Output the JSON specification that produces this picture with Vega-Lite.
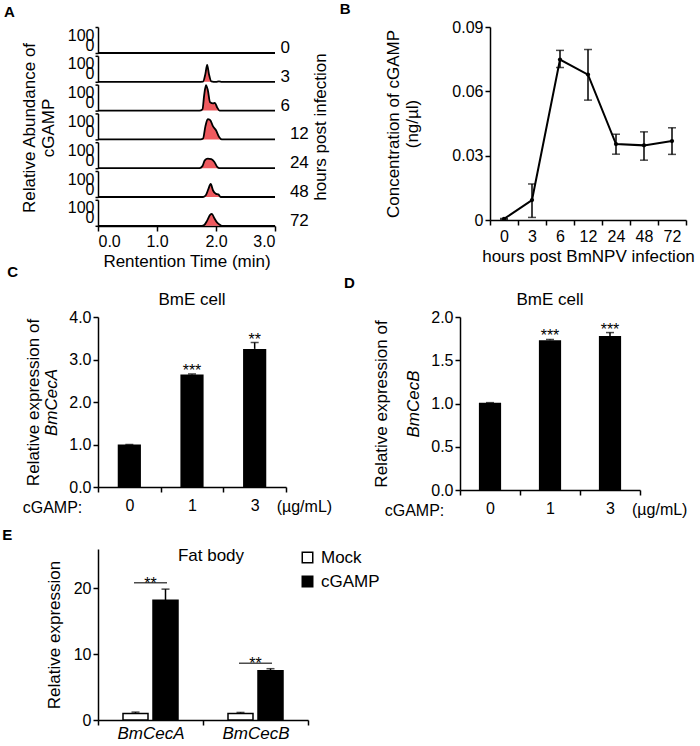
{
  "$schema": "https://vega.github.io/schema/vega-lite/v6.json",
  "padding": {"left": 2, "top": 2, "right": 0, "bottom": 0},
  "datasets": {
    "chrom": [
      {"hpi": 0, "t": 0, "a": 0}, {"hpi": 0, "t": 3, "a": 0},
      {"hpi": 3, "t": 0, "a": 0}, {"hpi": 3, "t": 1.7, "a": 0}, {"hpi": 3, "t": 1.78, "a": 1}, {"hpi": 3, "t": 1.82, "a": 30}, {"hpi": 3, "t": 1.85, "a": 65}, {"hpi": 3, "t": 1.88, "a": 30}, {"hpi": 3, "t": 1.92, "a": 2}, {"hpi": 3, "t": 2.0, "a": 0}, {"hpi": 3, "t": 2.05, "a": 2}, {"hpi": 3, "t": 2.1, "a": 0}, {"hpi": 3, "t": 3, "a": 0},
      {"hpi": 6, "t": 0, "a": 0}, {"hpi": 6, "t": 1.72, "a": 0}, {"hpi": 6, "t": 1.77, "a": 5}, {"hpi": 6, "t": 1.8, "a": 60}, {"hpi": 6, "t": 1.83, "a": 98}, {"hpi": 6, "t": 1.86, "a": 80}, {"hpi": 6, "t": 1.9, "a": 32}, {"hpi": 6, "t": 1.95, "a": 28}, {"hpi": 6, "t": 1.98, "a": 30}, {"hpi": 6, "t": 2.02, "a": 12}, {"hpi": 6, "t": 2.06, "a": 0}, {"hpi": 6, "t": 3, "a": 0},
      {"hpi": 12, "t": 0, "a": 0}, {"hpi": 12, "t": 1.74, "a": 0}, {"hpi": 12, "t": 1.78, "a": 3}, {"hpi": 12, "t": 1.82, "a": 50}, {"hpi": 12, "t": 1.86, "a": 78}, {"hpi": 12, "t": 1.9, "a": 75}, {"hpi": 12, "t": 1.95, "a": 50}, {"hpi": 12, "t": 2.0, "a": 35}, {"hpi": 12, "t": 2.05, "a": 10}, {"hpi": 12, "t": 2.1, "a": 0}, {"hpi": 12, "t": 3, "a": 0},
      {"hpi": 24, "t": 0, "a": 0}, {"hpi": 24, "t": 1.72, "a": 0}, {"hpi": 24, "t": 1.77, "a": 8}, {"hpi": 24, "t": 1.81, "a": 30}, {"hpi": 24, "t": 1.86, "a": 37}, {"hpi": 24, "t": 1.92, "a": 35}, {"hpi": 24, "t": 1.97, "a": 25}, {"hpi": 24, "t": 2.02, "a": 5}, {"hpi": 24, "t": 2.06, "a": 0}, {"hpi": 24, "t": 3, "a": 0},
      {"hpi": 48, "t": 0, "a": 0}, {"hpi": 48, "t": 1.78, "a": 0}, {"hpi": 48, "t": 1.83, "a": 8}, {"hpi": 48, "t": 1.87, "a": 30}, {"hpi": 48, "t": 1.91, "a": 50}, {"hpi": 48, "t": 1.95, "a": 25}, {"hpi": 48, "t": 2.0, "a": 12}, {"hpi": 48, "t": 2.04, "a": 10}, {"hpi": 48, "t": 2.08, "a": 0}, {"hpi": 48, "t": 3, "a": 0},
      {"hpi": 72, "t": 0, "a": 0}, {"hpi": 72, "t": 1.76, "a": 0}, {"hpi": 72, "t": 1.8, "a": 3}, {"hpi": 72, "t": 1.85, "a": 20}, {"hpi": 72, "t": 1.9, "a": 42}, {"hpi": 72, "t": 1.93, "a": 46}, {"hpi": 72, "t": 1.97, "a": 30}, {"hpi": 72, "t": 2.02, "a": 12}, {"hpi": 72, "t": 2.06, "a": 5}, {"hpi": 72, "t": 2.1, "a": 0}, {"hpi": 72, "t": 3, "a": 0}
    ],
    "conc": [
      {"hpi": 0, "conc": 0.0005, "lo": 0.0003, "hi": 0.0007},
      {"hpi": 3, "conc": 0.0093, "lo": 0.0012, "hi": 0.0168},
      {"hpi": 6, "conc": 0.0748, "lo": 0.0711, "hi": 0.0791},
      {"hpi": 12, "conc": 0.0678, "lo": 0.0559, "hi": 0.0795},
      {"hpi": 24, "conc": 0.0354, "lo": 0.0307, "hi": 0.04},
      {"hpi": 48, "conc": 0.0348, "lo": 0.0279, "hi": 0.0411},
      {"hpi": 72, "conc": 0.0368, "lo": 0.0306, "hi": 0.043}
    ],
    "cecA": [
      {"dose": "0", "value": 1.0, "hi": 1.0, "sig": ""},
      {"dose": "1", "value": 2.65, "hi": 2.66, "sig": "***"},
      {"dose": "3", "value": 3.25, "hi": 3.4, "sig": "**"}
    ],
    "cecB": [
      {"dose": "0", "value": 1.01, "hi": 1.01, "sig": ""},
      {"dose": "1", "value": 1.73, "hi": 1.74, "sig": "***"},
      {"dose": "3", "value": 1.78, "hi": 1.82, "sig": "***"}
    ],
    "unit": [{"dose": "3", "label": "(µg/mL)"}],
    "fat": [
      {"gene": "BmCecA", "treatment": "Mock", "value": 1.0, "hi": 1.2},
      {"gene": "BmCecA", "treatment": "cGAMP", "value": 18.2, "hi": 19.9},
      {"gene": "BmCecB", "treatment": "Mock", "value": 1.0, "hi": 1.15},
      {"gene": "BmCecB", "treatment": "cGAMP", "value": 7.47, "hi": 7.8}
    ],
    "fatsig": [
      {"gene": "BmCecA", "y": 20.85, "sig": "**"},
      {"gene": "BmCecB", "y": 8.64, "sig": "**"}
    ]
  },
  "vconcat": [
    {
      "vconcat": [
        {
          "hconcat": [
            {
              "title": {"text": "A", "anchor": "start", "frame": "bounds", "fontWeight": "bold", "fontSize": 15, "dx": -17, "offset": 6},
              "hconcat": [
                {
                  "data": {"name": "chrom"},
                  "bounds": "flush",
                  "facet": {"row": {"field": "hpi", "type": "ordinal", "header": {"title": ["Relative Abundance of", "cGAMP"], "titleOrient": "left", "labelOrient": "right", "labelAngle": 0, "labelAnchor": "end", "labelBaseline": "alphabetic", "labelPadding": -4, "titlePadding": -1, "labelAlign": "left"}}},
                  "spacing": 2.8,
                  "spec": {
                    "width": 177,
                    "height": 26,
                    "mark": {"type": "area", "interpolate": "monotone", "color": "#e8141b", "line": {"color": "black", "strokeWidth": 1.8}},
                    "encoding": {
                      "x": {"field": "t", "type": "quantitative", "scale": {"domain": [0, 3]}, "axis": {"values": [0, 1, 2, 3], "format": ".1f", "title": "Rentention Time (min)", "titlePadding": 4}},
                      "y": {"field": "a", "type": "quantitative", "scale": {"domain": [0, 100]}, "axis": {"values": [0, 100], "title": null, "tickSize": 3, "labelPadding": 1, "labelBaseline": {"expr": "datum.value == 0 ? 'bottom' : 'top'"}, "labelOverlap": false}}
                    }
                  }
                },
                {
                  "width": 1,
                  "height": 199,
                  "mark": {"type": "rule", "opacity": 0},
                  "encoding": {"y": {"datum": 0, "type": "quantitative", "axis": {"orient": "left", "title": "hours post infection", "labels": false, "ticks": false, "domain": false, "titlePadding": 0}}}
                }
              ],
              "spacing": 2
            },
            {
              "title": {"text": "B", "anchor": "start", "frame": "bounds", "fontWeight": "bold", "fontSize": 15, "dx": -45, "offset": 2},
              "width": 196,
              "height": 193,
              "data": {"name": "conc"},
              "encoding": {
                "x": {"field": "hpi", "type": "ordinal", "sort": [0, 3, 6, 12, 24, 48, 72], "scale": {"type": "band", "paddingInner": 0, "paddingOuter": 0}, "axis": {"tickBand": "extent", "labelAngle": 0, "title": "hours post BmNPV infection", "labelPadding": 3, "titlePadding": 4}}
              },
              "layer": [
                {"mark": {"type": "rule", "strokeWidth": 1.5, "color": "black"}, "encoding": {"y": {"field": "lo", "type": "quantitative", "scale": {"domain": [0, 0.09]}, "axis": {"values": [0, 0.03, 0.06, 0.09], "labelExpr": "datum.value == 0 ? '0' : format(datum.value, '.2f')", "title": ["Concentration of cGAMP", "(ng/µl)"], "titlePadding": 30}}, "y2": {"field": "hi"}}},
                {"mark": {"type": "tick", "thickness": 1.5, "size": 8, "color": "black"}, "encoding": {"y": {"field": "lo", "type": "quantitative", "axis": {"values": [0, 0.03, 0.06, 0.09], "labelExpr": "datum.value == 0 ? '0' : format(datum.value, '.2f')", "title": ["Concentration of cGAMP", "(ng/µl)"], "titlePadding": 30}}}},
                {"mark": {"type": "tick", "thickness": 1.5, "size": 8, "color": "black"}, "encoding": {"y": {"field": "hi", "type": "quantitative", "axis": {"values": [0, 0.03, 0.06, 0.09], "labelExpr": "datum.value == 0 ? '0' : format(datum.value, '.2f')", "title": ["Concentration of cGAMP", "(ng/µl)"], "titlePadding": 30}}}},
                {"mark": {"type": "line", "color": "black", "strokeWidth": 2}, "encoding": {"y": {"field": "conc", "type": "quantitative", "axis": {"values": [0, 0.03, 0.06, 0.09], "labelExpr": "datum.value == 0 ? '0' : format(datum.value, '.2f')", "title": ["Concentration of cGAMP", "(ng/µl)"], "titlePadding": 30}}}},
                {"mark": {"type": "point", "filled": true, "color": "black", "size": 18, "opacity": 1}, "encoding": {"y": {"field": "conc", "type": "quantitative", "axis": {"values": [0, 0.03, 0.06, 0.09], "labelExpr": "datum.value == 0 ? '0' : format(datum.value, '.2f')", "title": ["Concentration of cGAMP", "(ng/µl)"], "titlePadding": 30}}}}
              ]
            }
          ],
          "spacing": 9
        },
        {
          "hconcat": [
            {
              "title": {"text": "C", "anchor": "start", "frame": "bounds", "fontWeight": "bold", "fontSize": 15, "dx": -15, "offset": 0, "dy": -11},
              "vconcat": [
                {
                  "title": {"text": "BmE cell", "offset": 0},
                  "width": 188,
                  "height": 170,
                  "layer": [
                    {
                      "encoding": {
                        "x": {"field": "dose", "type": "nominal", "sort": ["0", "1", "3"], "scale": {"type": "band", "paddingInner": 0, "paddingOuter": 0}, "axis": {"tickBand": "extent", "labelAngle": 0, "title": "cGAMP:", "titleX": -46, "titleY": 12, "titleBaseline": "top", "titleFontSize": 16, "labelPadding": 5}}
                      },
                      "layer": [
                        {"data": {"name": "cecA"}, "mark": {"type": "bar", "color": "black", "width": {"band": 0.37}}, "encoding": {"y": {"field": "value", "type": "quantitative", "scale": {"domain": [0, 4]}, "axis": {"values": [0, 1, 2, 3, 4], "format": ".1f", "title": "BmCecA", "titleFontStyle": "italic", "titlePadding": 8}}}},
                        {"data": {"name": "cecA"}, "mark": {"type": "rule", "strokeWidth": 1.5, "color": "black"}, "encoding": {"y": {"field": "value", "type": "quantitative"}, "y2": {"field": "hi"}}},
                        {"data": {"name": "cecA"}, "mark": {"type": "tick", "thickness": 1.5, "size": 8, "color": "black"}, "encoding": {"y": {"field": "hi", "type": "quantitative"}}},
                        {"data": {"name": "cecA"}, "mark": {"type": "text", "fontSize": 16, "baseline": "alphabetic", "dy": 2}, "encoding": {"y": {"field": "hi", "type": "quantitative"}, "text": {"field": "sig"}}},
                        {"data": {"name": "unit"}, "mark": {"type": "text", "fontSize": 16, "align": "left", "baseline": "top", "dx": 22, "dy": 12}, "encoding": {"y": {"datum": 0, "type": "quantitative"}, "text": {"field": "label"}}}
                      ]
                    },
                    {"mark": {"type": "rule", "opacity": 0}, "encoding": {"y": {"datum": 0, "type": "quantitative", "axis": {"orient": "left", "offset": 56, "title": "Relative expression of", "labels": false, "ticks": false, "domain": false, "titlePadding": 0}}}}
                  ],
                  "resolve": {"scale": {"y": "independent"}, "axis": {"y": "independent"}}
                }
              ]
            },
            {
              "title": {"text": "D", "anchor": "start", "frame": "bounds", "fontWeight": "bold", "fontSize": 15, "dx": -28, "offset": 0, "dy": 0},
              "vconcat": [
                {
                  "title": {"text": "BmE cell", "offset": 0},
                  "width": 180,
                  "height": 173,
                  "layer": [
                    {
                      "encoding": {
                        "x": {"field": "dose", "type": "nominal", "sort": ["0", "1", "3"], "scale": {"type": "band", "paddingInner": 0, "paddingOuter": 0}, "axis": {"tickBand": "extent", "labelAngle": 0, "title": "cGAMP:", "titleX": -46, "titleY": 12, "titleBaseline": "top", "titleFontSize": 16, "labelPadding": 5}}
                      },
                      "layer": [
                        {"data": {"name": "cecB"}, "mark": {"type": "bar", "color": "black", "width": {"band": 0.37}}, "encoding": {"y": {"field": "value", "type": "quantitative", "scale": {"domain": [0, 2]}, "axis": {"values": [0, 0.5, 1, 1.5, 2], "format": ".1f", "title": "BmCecB", "titleFontStyle": "italic", "titlePadding": 8}}}},
                        {"data": {"name": "cecB"}, "mark": {"type": "rule", "strokeWidth": 1.5, "color": "black"}, "encoding": {"y": {"field": "value", "type": "quantitative"}, "y2": {"field": "hi"}}},
                        {"data": {"name": "cecB"}, "mark": {"type": "tick", "thickness": 1.5, "size": 8, "color": "black"}, "encoding": {"y": {"field": "hi", "type": "quantitative"}}},
                        {"data": {"name": "cecB"}, "mark": {"type": "text", "fontSize": 16, "baseline": "alphabetic", "dy": 2}, "encoding": {"y": {"field": "hi", "type": "quantitative"}, "text": {"field": "sig"}}},
                        {"data": {"name": "unit"}, "mark": {"type": "text", "fontSize": 16, "align": "left", "baseline": "top", "dx": 22, "dy": 12}, "encoding": {"y": {"datum": 0, "type": "quantitative"}, "text": {"field": "label"}}}
                      ]
                    },
                    {"mark": {"type": "rule", "opacity": 0}, "encoding": {"y": {"datum": 0, "type": "quantitative", "axis": {"orient": "left", "offset": 70, "title": "Relative expression of", "labels": false, "ticks": false, "domain": false, "titlePadding": 0}}}}
                  ],
                  "resolve": {"scale": {"y": "independent"}, "axis": {"y": "independent"}}
                }
              ]
            }
          ],
          "spacing": 11
        }
      ],
      "spacing": -4
    },
    {
      "title": {"text": "E", "anchor": "start", "frame": "bounds", "fontWeight": "bold", "fontSize": 15, "dx": -43, "offset": 4},
      "resolve": {"legend": {"fill": "independent"}},
      "vconcat": [
        {
          "title": {"text": "Fat body", "dy": 20, "dx": 8},
          "width": 210,
          "height": 171,
          "encoding": {
            "x": {"field": "gene", "type": "nominal", "scale": {"type": "band", "paddingInner": 0, "paddingOuter": 0}, "axis": {"tickBand": "extent", "labelAngle": 0, "title": null, "labelFontStyle": "italic", "labelFontSize": 17, "labelPadding": 0}}
          },
          "layer": [
            {"data": {"name": "fat"}, "mark": {"type": "bar", "stroke": "black", "strokeWidth": 1.5}, "encoding": {
              "xOffset": {"field": "treatment", "type": "nominal", "sort": ["Mock", "cGAMP"], "scale": {"paddingInner": 0.1667, "paddingOuter": 0.8333}},
              "y": {"field": "value", "type": "quantitative", "scale": {"domain": [0, 25]}, "axis": {"values": [0, 5, 10, 15, 20, 25], "title": "Relative expression", "titlePadding": 10}},
              "fill": {"field": "treatment", "type": "nominal", "sort": ["Mock", "cGAMP"], "scale": {"domain": ["Mock", "cGAMP"], "range": ["white", "black"]}, "legend": {"orient": "none", "legendX": 201, "legendY": 0, "title": null, "symbolType": "square", "symbolSize": 110, "symbolStrokeColor": "black", "symbolStrokeWidth": 1.5, "labelFontSize": 17, "labelColor": "black", "rowPadding": 6, "labelOffset": 5}}
            }},
            {"data": {"name": "fat"}, "mark": {"type": "rule", "strokeWidth": 1.5, "color": "black"}, "encoding": {"xOffset": {"field": "treatment", "type": "nominal", "sort": ["Mock", "cGAMP"]}, "y": {"field": "value", "type": "quantitative"}, "y2": {"field": "hi"}}},
            {"data": {"name": "fat"}, "mark": {"type": "tick", "thickness": 1.5, "size": 8, "color": "black"}, "encoding": {"xOffset": {"field": "treatment", "type": "nominal", "sort": ["Mock", "cGAMP"]}, "y": {"field": "hi", "type": "quantitative"}}},
            {"data": {"name": "fatsig"}, "mark": {"type": "tick", "thickness": 1.5, "size": 33, "color": "black"}, "encoding": {"y": {"field": "y", "type": "quantitative"}}},
            {"data": {"name": "fatsig"}, "mark": {"type": "text", "fontSize": 16, "baseline": "alphabetic", "dy": 6}, "encoding": {"y": {"field": "y", "type": "quantitative"}, "text": {"field": "sig"}}}
          ]
        }
      ]
    }
  ],
  "spacing": 10,
  "config": {
    "font": "Liberation Sans",
    "view": {"stroke": null},
    "axis": {"labelFont": "Liberation Sans", "titleFont": "Liberation Sans", "labelFontSize": 16, "titleFontSize": 17, "titleFontWeight": "normal", "labelColor": "black", "titleColor": "black", "domainColor": "black", "tickColor": "black", "domainWidth": 1.5, "tickWidth": 1.5, "grid": false, "tickSize": 5, "labelPadding": 2},
    "header": {"labelFont": "Liberation Sans", "titleFont": "Liberation Sans", "labelFontSize": 17, "titleFontSize": 17, "titleFontWeight": "normal", "labelColor": "black", "titleColor": "black"},
    "title": {"font": "Liberation Sans", "fontSize": 17, "fontWeight": "normal", "color": "black"},
    "legend": {"labelFont": "Liberation Sans"},
    "text": {"font": "Liberation Sans", "color": "black"}
  }
}
